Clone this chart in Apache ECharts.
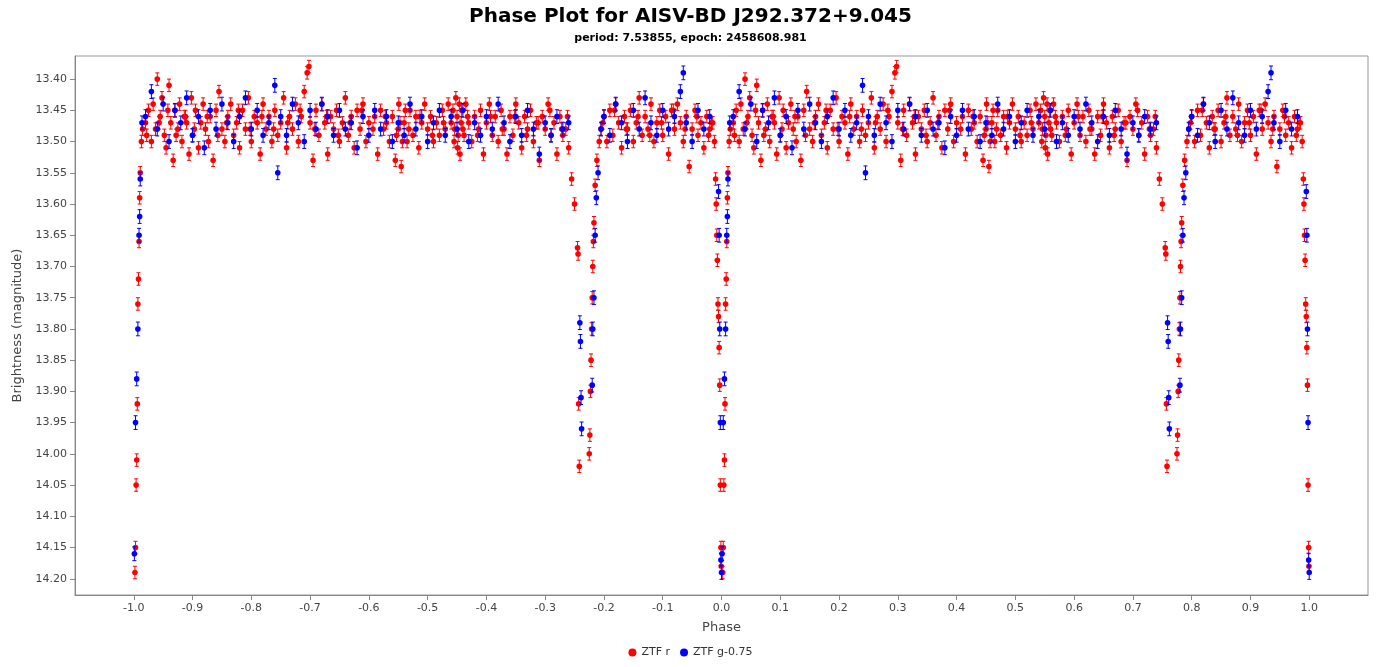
<!DOCTYPE html>
<html>
<head>
<meta charset="utf-8">
<script src="https://cdn.jsdelivr.net/npm/echarts@6/dist/echarts.min.js"></script>
<style>html,body{margin:0;padding:0;background:#fff}#chart{width:1381px;height:667px}</style>
</head>
<body>
<div id="chart"></div>
<script>
// one cycle of phase (0..1), drawn at p-1 and p
var redPhase = [0.002,0.003,0.004,0.005,0.006,0.007,0.008,0.009,0.010,0.011,0.013,0.015,
  0.985,0.988,0.990,0.991,0.992,0.993,0.994,0.995,0.996,0.997,0.998,0.999,0.9995,
  0.745,0.750,0.755,0.756,0.757,0.758,0.775,0.776,0.777,0.778,0.779,0.780,0.781,0.782,0.783,0.785,0.788,0.792,
  0.020,0.025,0.030,0.033,0.037,0.040,0.045,0.048,0.052,0.055,0.060,0.063,0.067,0.070,0.075,0.078,0.082,0.086,0.090,0.094,0.098,
  0.100,0.105,0.110,0.114,0.118,0.122,0.127,0.130,0.135,0.140,0.145,0.150,0.155,0.160,0.165,0.170,0.175,0.180,0.185,0.190,0.195,
  0.200,0.205,0.210,0.215,0.220,0.225,0.230,0.235,0.240,0.245,0.250,0.255,0.260,0.265,0.270,0.275,0.280,0.285,0.290,0.295,0.298,
  0.300,0.305,0.310,0.315,0.320,0.325,0.330,0.335,0.340,0.345,0.350,0.355,0.360,0.365,0.370,0.375,0.380,0.385,0.390,0.395,
  0.400,0.410,0.415,0.420,0.425,0.430,0.435,0.440,0.445,0.450,0.455,0.460,0.465,0.470,0.475,0.480,0.485,0.490,0.495,
  0.500,0.505,0.510,0.515,0.520,0.525,0.530,0.535,0.540,0.545,0.548,0.550,0.552,0.555,0.558,0.560,0.565,0.570,0.575,0.580,0.585,0.590,0.595,
  0.600,0.605,0.610,0.615,0.620,0.625,0.630,0.635,0.640,0.645,0.650,0.655,0.660,0.665,0.670,0.675,0.680,0.685,0.690,0.695,
  0.700,0.705,0.710,0.715,0.720,0.725,0.730,0.735,0.740,
  0.795,0.800,0.805,0.810,0.815,0.820,0.825,0.830,0.835,0.840,0.845,0.850,0.855,0.860,0.865,0.870,0.875,0.880,0.885,0.890,0.895,
  0.900,0.905,0.910,0.915,0.920,0.925,0.930,0.935,0.940,0.945,0.950,0.955,0.960,0.965,0.970,0.975,0.980,
  0.022,0.043,0.058,0.072,0.088,0.103,0.125,0.143,0.158,0.178,0.198,0.218,0.238,0.262,0.283,0.308,0.328,0.348,0.368,0.388,
  0.407,0.428,0.447,0.451,0.453,0.457,0.462,0.468,0.487,0.508,0.527,0.543,0.546,0.551,0.554,0.557,0.562,0.568,0.587,0.607,
  0.627,0.648,0.668,0.688,0.708,0.728,0.738,0.798,0.818,0.838,0.858,0.878,0.898,0.918,0.938,0.958,0.978,0.983];
var redMag = [14.19,14.15,14.05,14.01,13.92,13.76,13.72,13.66,13.59,13.55,13.50,13.48,
  13.47,13.50,13.56,13.60,13.65,13.69,13.76,13.78,13.83,13.89,14.05,14.15,14.18,
  13.56,13.60,13.67,13.68,13.92,14.02,14.00,13.97,13.90,13.85,13.80,13.75,13.70,13.66,13.63,13.57,13.53,13.50,
  13.47,13.45,13.50,13.44,13.48,13.40,13.46,13.43,13.49,13.51,13.41,13.47,13.53,13.45,13.48,13.44,13.50,13.46,13.47,13.52,13.43,
  13.49,13.45,13.51,13.47,13.44,13.48,13.50,13.46,13.53,13.45,13.42,13.48,13.50,13.46,13.44,13.49,13.47,13.51,13.45,13.48,13.43,
  13.50,13.46,13.47,13.52,13.44,13.48,13.46,13.50,13.45,13.49,13.47,13.43,13.51,13.46,13.48,13.44,13.50,13.46,13.42,13.39,13.38,
  13.47,13.53,13.45,13.49,13.44,13.47,13.52,13.46,13.48,13.45,13.50,13.47,13.43,13.49,13.46,13.51,13.45,13.48,13.44,13.50,
  13.47,13.46,13.52,13.45,13.48,13.47,13.50,13.46,13.53,13.48,13.54,13.47,13.50,13.45,13.49,13.46,13.51,13.47,13.44,
  13.48,13.46,13.50,13.47,13.49,13.45,13.48,13.44,13.47,13.50,13.43,13.46,13.49,13.52,13.45,13.48,13.44,13.47,13.50,13.46,13.49,13.45,13.52,
  13.47,13.44,13.49,13.46,13.50,13.45,13.48,13.52,13.46,13.49,13.44,13.47,13.51,13.46,13.48,13.45,13.50,13.47,13.53,13.46,
  13.48,13.44,13.49,13.47,13.52,13.46,13.49,13.48,13.51,
  13.48,13.46,13.50,13.45,13.49,13.44,13.47,13.51,13.46,13.48,13.45,13.50,13.47,13.43,13.49,13.46,13.48,13.44,13.50,13.47,13.45,
  13.49,13.46,13.52,13.45,13.48,13.44,13.47,13.50,13.46,13.54,13.48,13.45,13.49,13.47,13.51,13.46,13.48,
  13.49,13.47,13.45,13.49,13.46,13.48,13.46,13.49,13.47,13.45,13.48,13.46,13.48,13.47,13.45,13.48,13.46,13.49,13.47,13.45,
  13.48,13.46,13.49,13.44,13.47,13.50,13.45,13.48,13.46,13.49,13.47,13.45,13.48,13.51,13.44,13.47,13.49,13.46,13.48,13.46,
  13.48,13.46,13.49,13.47,13.45,13.48,13.46,13.47,13.45,13.48,13.46,13.49,13.47,13.45,13.48,13.46,13.49,13.47,13.46];
var bluePhase = [0.995,0.996,0.997,0.998,0.999,1.000,0.001,0.003,0.005,0.007,0.009,0.010,0.011,0.014,
  0.759,0.760,0.761,0.762,0.780,0.781,0.783,0.785,0.787,0.790,0.795,
  0.02,0.03,0.04,0.05,0.06,0.07,0.08,0.09,0.10,0.11,0.12,0.13,0.14,0.15,0.16,0.17,0.18,0.19,0.20,0.21,0.22,0.23,0.24,0.245,
  0.25,0.26,0.27,0.28,0.29,0.30,0.31,0.32,0.33,0.34,0.35,0.36,0.37,0.38,0.39,0.40,0.41,0.42,0.43,0.44,0.45,0.46,0.47,0.48,0.49,
  0.50,0.51,0.52,0.53,0.54,0.55,0.56,0.57,0.58,0.59,0.60,0.61,0.62,0.63,0.64,0.65,0.66,0.67,0.68,0.69,0.70,0.71,0.72,0.73,0.74,
  0.80,0.81,0.82,0.83,0.84,0.85,0.86,0.87,0.88,0.89,0.90,0.91,0.92,0.93,0.935,0.94,0.95,0.96,0.97,0.98];
var blueMag = [13.58,13.65,13.80,13.95,14.17,14.19,14.16,13.95,13.88,13.80,13.65,13.62,13.56,13.47,
  13.79,13.82,13.91,13.96,13.89,13.80,13.75,13.65,13.59,13.55,13.48,
  13.46,13.42,13.48,13.44,13.50,13.45,13.47,13.43,13.49,13.46,13.51,13.45,13.48,13.44,13.47,13.50,13.46,13.43,13.48,13.45,13.49,13.47,13.41,13.55,
  13.46,13.49,13.44,13.47,13.50,13.45,13.48,13.44,13.46,13.49,13.45,13.48,13.47,13.51,13.46,13.49,13.45,13.48,13.46,13.50,13.47,13.49,13.44,13.48,13.46,
  13.50,13.47,13.45,13.49,13.46,13.48,13.45,13.50,13.47,13.49,13.46,13.48,13.44,13.47,13.50,13.46,13.49,13.45,13.48,13.52,13.47,13.49,13.46,13.48,13.47,
  13.46,13.49,13.44,13.47,13.50,13.45,13.48,13.43,13.47,13.49,13.45,13.48,13.46,13.42,13.39,13.47,13.50,13.45,13.48,13.46];
var redErr = 0.010, blueErr = 0.011;
var xTicks = [-1.0,-0.9,-0.8,-0.7,-0.6,-0.5,-0.4,-0.3,-0.2,-0.1,0.0,0.1,0.2,0.3,0.4,0.5,0.6,0.7,0.8,0.9,1.0];
var yTicks = [13.40,13.45,13.50,13.55,13.60,13.65,13.70,13.75,13.80,13.85,13.90,13.95,14.00,14.05,14.10,14.15,14.20];

function fold(ph, mg, err) {
  var out = [];
  for (var i = 0; i < ph.length; i++) {
    out.push([ph[i] - 1, mg[i], err]);
    out.push([ph[i], mg[i], err]);
  }
  return out;
}

function errItem(color) {
  return function (params, api) {
    var x = api.value(0), y = api.value(1), e = api.value(2);
    var p = api.coord([x, y]), hi = api.coord([x, y - e]), lo = api.coord([x, y + e]);
    var st = { stroke: color, lineWidth: 1 };
    return { type: 'group', children: [
      { type: 'line', shape: { x1: p[0], y1: hi[1], x2: p[0], y2: lo[1] }, style: st },
      { type: 'line', shape: { x1: p[0] - 2, y1: hi[1], x2: p[0] + 2, y2: hi[1] }, style: st },
      { type: 'line', shape: { x1: p[0] - 2, y1: lo[1], x2: p[0] + 2, y2: lo[1] }, style: st },
      { type: 'circle', shape: { cx: p[0], cy: p[1], r: 2.8 }, style: { fill: color } }
    ]};
  };
}

var chart = echarts.init(document.getElementById('chart'));
chart.setOption({
  animation: false,
  textStyle: { fontFamily: 'DejaVu Sans' },
  title: {
    text: 'Phase Plot for AISV-BD J292.372+9.045',
    subtext: 'period: 7.53855, epoch: 2458608.981',
    left: 'center', top: 2, itemGap: 6,
    textStyle: { fontSize: 20, fontWeight: 'bold', color: '#000' },
    subtextStyle: { fontSize: 11, fontWeight: 'bold', color: '#000' }
  },
  legend: {
    bottom: 4, left: 'center', itemWidth: 8, itemHeight: 8, itemGap: 10,
    textStyle: { fontSize: 11, color: '#333' },
    data: [{ name: 'ZTF r', icon: 'circle' }, { name: 'ZTF g-0.75', icon: 'circle' }]
  },
  grid: { left: 75, right: 13, top: 56, bottom: 72, show: true, borderColor: '#999', backgroundColor: '#fff' },
  xAxis: {
    type: 'value', min: -1.1, max: 1.1, name: 'Phase', nameLocation: 'middle', nameGap: 26,
    nameTextStyle: { fontSize: 13, color: '#444' },
    axisLine: { onZero: false, lineStyle: { color: '#888' } },
    axisTick: { show: true, customValues: xTicks, lineStyle: { color: '#888' } },
    splitLine: { show: false },
    axisLabel: {
      color: '#444', fontSize: 11,
      customValues: xTicks, formatter: function (v) { return v.toFixed(1); }
    }
  },
  yAxis: {
    type: 'value', inverse: true, min: 13.363, max: 14.226, name: 'Brightness (magnitude)',
    nameLocation: 'middle', nameGap: 46, nameTextStyle: { fontSize: 13, color: '#444' },
    axisLine: { show: true, onZero: false, lineStyle: { color: '#888' } },
    axisTick: { show: true, customValues: yTicks, lineStyle: { color: '#888' } },
    splitLine: { show: false },
    axisLabel: {
      color: '#444', fontSize: 11, customValues: yTicks,
      formatter: function (v) { return v.toFixed(2); }
    }
  },
  series: [
    { name: 'ZTF r', type: 'custom', itemStyle: { color: '#ff0000' }, renderItem: errItem('#ff0000'),
      data: fold(redPhase, redMag, redErr), z: 2 },
    { name: 'ZTF g-0.75', type: 'custom', itemStyle: { color: '#0000ff' }, renderItem: errItem('#0000ff'),
      data: fold(bluePhase, blueMag, blueErr), z: 3 }
  ]
});
</script>
</body>
</html>
